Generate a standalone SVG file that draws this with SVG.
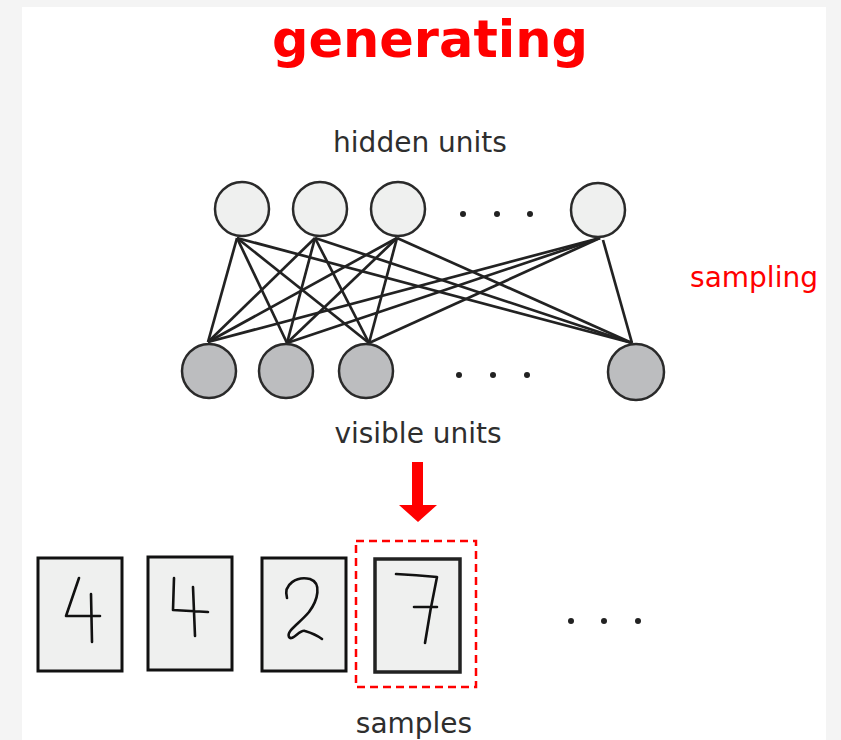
<svg xmlns="http://www.w3.org/2000/svg" width="841" height="740" viewBox="0 0 841 740">
<defs>
<style>
.lbl{font-family:"DejaVu Sans",Verdana,sans-serif;font-size:28px;fill:#2e2e2e;text-anchor:middle}
.hid{fill:#eff0ef;stroke:#2a2a2a;stroke-width:2.5}
.vis{fill:#bcbdbf;stroke:#2a2a2a;stroke-width:2.5}
.edge{stroke:#222;stroke-width:2.7;fill:none}
.dot{fill:#222}
.box{fill:#eff0ef;stroke:#111;stroke-width:3}
.digit{fill:none;stroke:#111;stroke-width:2.6;stroke-linecap:round;stroke-linejoin:round}
</style>
</defs>
<rect x="0" y="0" width="841" height="740" fill="#f4f4f4"/>
<rect x="22" y="7" width="804" height="733" fill="#ffffff"/>

<text id="title" x="430" y="57" font-family="DejaVu Sans,Verdana,sans-serif" font-size="51" font-weight="bold" fill="#ff0000" text-anchor="middle">generating</text>

<g id="labels">
<text class="lbl" x="420" y="152">hidden units</text>
<text class="lbl" x="418" y="443">visible units</text>
<text class="lbl" x="414" y="733">samples</text>
<text class="lbl" x="754" y="287" style="fill:#ff0000">sampling</text>
</g>

<g id="connectors">
<line class="edge" x1="237" y1="238" x2="208" y2="342"/>
<line class="edge" x1="237" y1="238" x2="287" y2="343"/>
<line class="edge" x1="237" y1="238" x2="369" y2="343"/>
<line class="edge" x1="237" y1="238" x2="632" y2="343"/>
<line class="edge" x1="315" y1="238" x2="208" y2="342"/>
<line class="edge" x1="315" y1="238" x2="287" y2="343"/>
<line class="edge" x1="315" y1="238" x2="369" y2="343"/>
<line class="edge" x1="315" y1="238" x2="632" y2="343"/>
<line class="edge" x1="397" y1="238" x2="208" y2="342"/>
<line class="edge" x1="397" y1="238" x2="287" y2="343"/>
<line class="edge" x1="397" y1="238" x2="369" y2="343"/>
<line class="edge" x1="397" y1="238" x2="632" y2="343"/>
<line class="edge" x1="600" y1="238" x2="208" y2="342"/>
<line class="edge" x1="600" y1="238" x2="287" y2="343"/>
<line class="edge" x1="600" y1="238" x2="369" y2="343"/>
<line class="edge" x1="603" y1="240" x2="632" y2="343"/>
</g>

<g id="hidden1"><circle class="hid" cx="242" cy="209" r="27"/></g>
<g id="hidden2"><circle class="hid" cx="320" cy="209" r="27"/></g>
<g id="hidden3"><circle class="hid" cx="398" cy="209" r="27"/></g>
<g id="hidden4"><circle class="hid" cx="598" cy="210" r="27"/></g>
<g id="hidden-dots">
<circle class="dot" cx="463" cy="214" r="3"/>
<circle class="dot" cx="497" cy="214" r="3"/>
<circle class="dot" cx="530" cy="214" r="3"/>
</g>

<g id="visible1"><circle class="vis" cx="209" cy="371" r="27"/></g>
<g id="visible2"><circle class="vis" cx="286" cy="371" r="27"/></g>
<g id="visible3"><circle class="vis" cx="366" cy="371" r="27"/></g>
<g id="visible4"><circle class="vis" cx="636" cy="372" r="28"/></g>
<g id="visible-dots">
<circle class="dot" cx="459" cy="375" r="3"/>
<circle class="dot" cx="493" cy="375" r="3"/>
<circle class="dot" cx="527" cy="375" r="3"/>
</g>

<g id="arrow">
<rect x="412" y="462" width="11" height="44" fill="#ff0000"/>
<polygon points="399,505 437,505 418,522" fill="#ff0000"/>
</g>

<g id="sample1">
<rect class="box" x="38" y="558" width="84" height="113"/>
<path class="digit" d="M79,578 L66,616 L100,616 M91,594 L92,642"/>
</g>
<g id="sample2">
<rect class="box" x="148" y="557" width="84" height="113"/>
<path class="digit" d="M174,578 L173,610 L208,612 M193,587 L195,636"/>
</g>
<g id="sample3">
<rect class="box" x="262" y="558" width="84" height="113"/>
<path class="digit" d="M287,598 C283,584 297,576 310,579 C322,583 318,600 309,612 C300,623 286,631 289,637 C292,642 300,629 305,631 C312,633 318,636 322,639"/>
</g>
<g id="sample4">
<rect x="356" y="541" width="120" height="146" fill="none" stroke="#ff0000" stroke-width="2.5" stroke-dasharray="8,5"/>
<rect class="box" x="375" y="559" width="85" height="113" style="stroke:#222;stroke-width:3.5"/>
<path class="digit" d="M396,574 Q416,575 437,577 Q430,610 425,643 M414,607 L437,607"/>
</g>
<g id="sample-dots">
<circle class="dot" cx="571" cy="621" r="3"/>
<circle class="dot" cx="604" cy="621" r="3"/>
<circle class="dot" cx="638" cy="621" r="3"/>
</g>
</svg>
